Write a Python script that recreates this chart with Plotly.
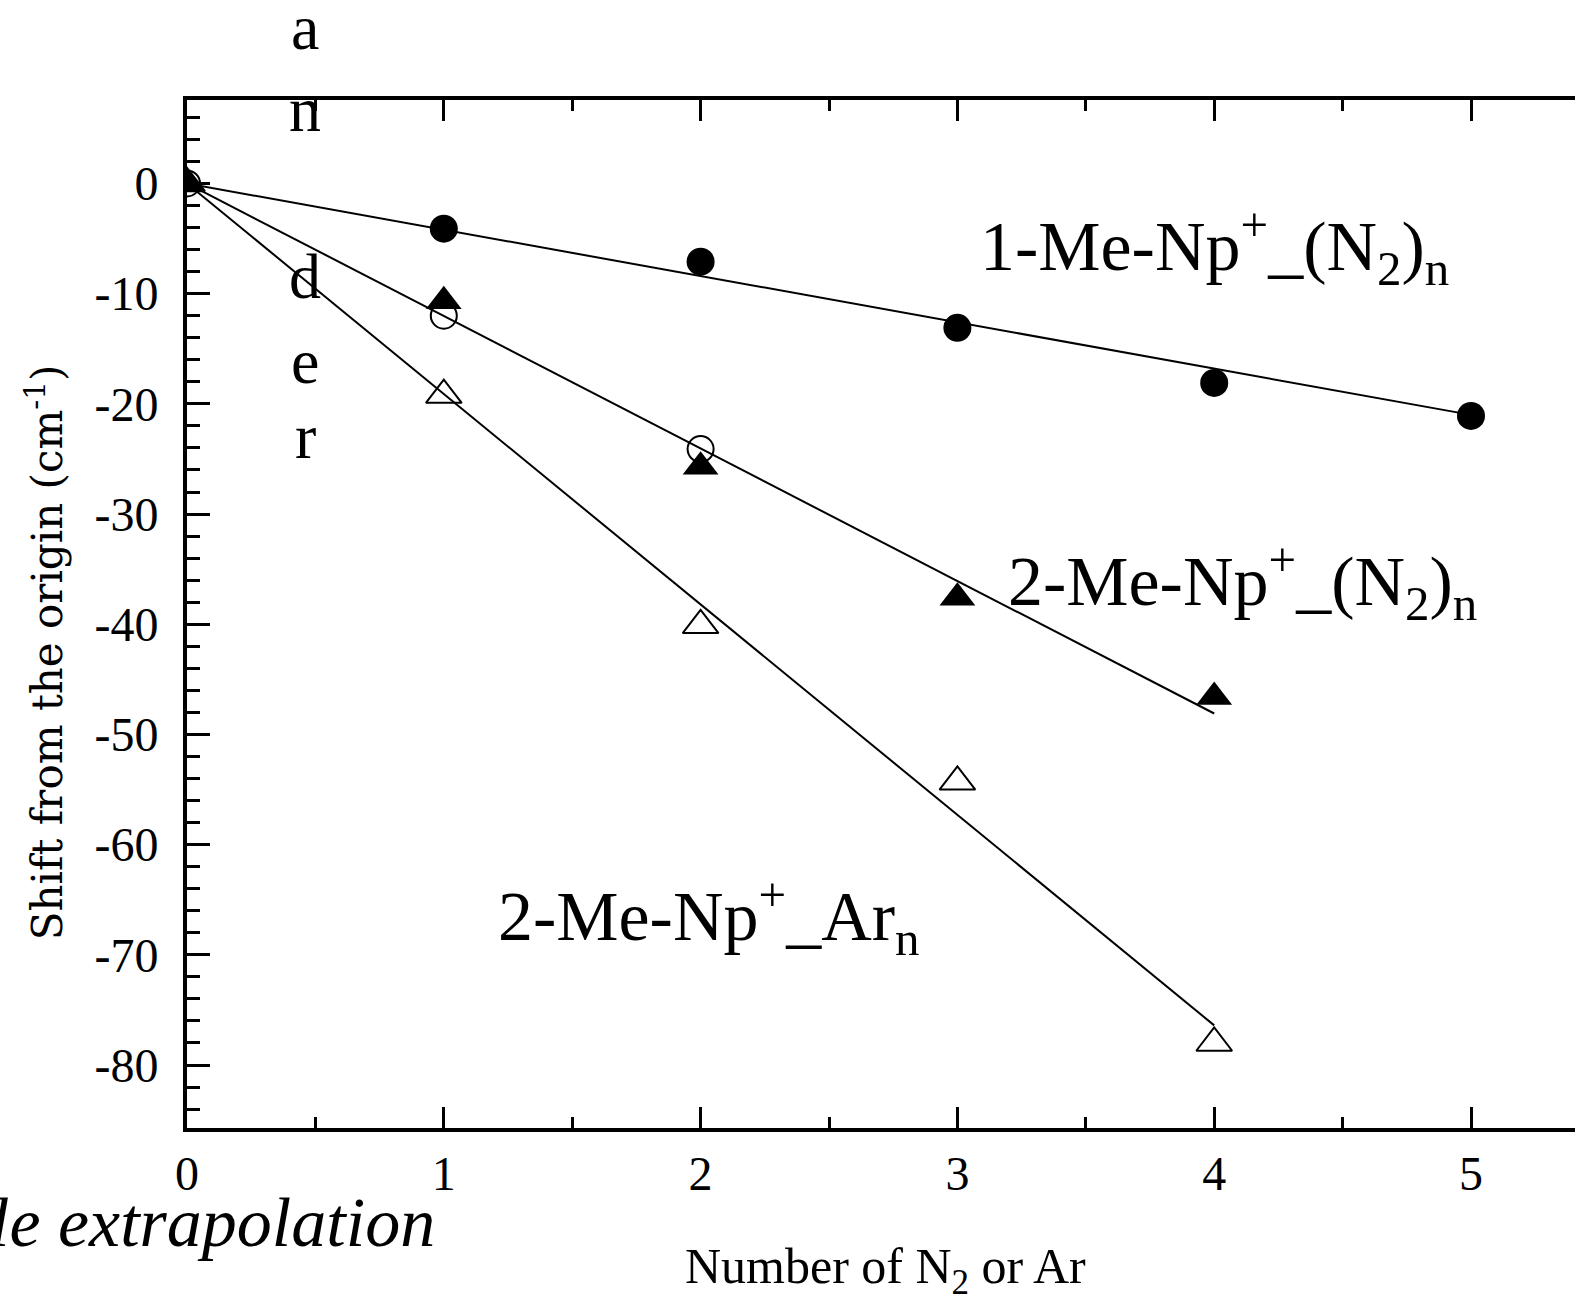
import plotly.graph_objects as go

# Measured band shifts (cm^-1) versus number of attached ligands
n_1me_n2 = [1, 2, 3, 4, 5]
shift_1me_n2 = [-4.1, -7.1, -13.1, -18.1, -21.1]

n_2me_n2 = [0, 1, 2, 3, 4]
shift_2me_n2 = [0, -10.7, -25.7, -37.6, -46.6]

n_2me_n2_open = [0, 1, 2]
shift_2me_n2_open = [0, -12.0, -24.1]

n_2me_ar = [0, 1, 2, 3, 4]
shift_2me_ar = [0, -19.2, -40.1, -54.3, -78.0]

# Straight-line extrapolations through the origin
fit_1me_n2_x = [0, 5]
fit_1me_n2_y = [0, -21.0]
fit_2me_n2_x = [0, 4]
fit_2me_n2_y = [0, -48.1]
fit_2me_ar_x = [0, 4]
fit_2me_ar_y = [0, -76.4]

x_ticks = [0, 1, 2, 3, 4, 5]
y_ticks = [0, -10, -20, -30, -40, -50, -60, -70, -80]

W, H = 1575, 1301
# frame line positions (pixels) and axis scales
LINE_L, LINE_T, LINE_B = 185, 97.5, 1130
LW = 4
PL, PR, PT, PB = LINE_L + LW / 2, W, LINE_T + LW / 2, LINE_B - LW / 2
X_SCALE = 256.8
Y0_PX, Y_SCALE = 183, 11.025
SERIF = "Liberation Serif"


def fx(px):
    return (px - PL) / (PR - PL)


def fy(py):
    return (PB - py) / (PB - PT)


fig = go.Figure()

for xs, ys in [(fit_1me_n2_x, fit_1me_n2_y),
               (fit_2me_n2_x, fit_2me_n2_y),
               (fit_2me_ar_x, fit_2me_ar_y)]:
    fig.add_trace(go.Scatter(x=xs, y=ys, mode="lines",
                             line=dict(color="black", width=2),
                             showlegend=False, hoverinfo="skip"))

fig.add_trace(go.Scatter(x=n_2me_ar, y=shift_2me_ar, mode="markers",
                         marker=dict(symbol="triangle-up-open", size=31, color="black",
                                     line=dict(width=2, color="black")),
                         showlegend=False))
fig.add_trace(go.Scatter(x=n_2me_n2, y=shift_2me_n2, mode="markers",
                         marker=dict(symbol="triangle-up", size=31, color="black"),
                         showlegend=False))
fig.add_trace(go.Scatter(x=n_2me_n2_open, y=shift_2me_n2_open, mode="markers",
                         marker=dict(symbol="circle-open", size=26, color="black",
                                     line=dict(width=2, color="black")),
                         showlegend=False))
fig.add_trace(go.Scatter(x=n_1me_n2, y=shift_1me_n2, mode="markers",
                         marker=dict(symbol="circle", size=28, color="black"),
                         showlegend=False))

axis_common = dict(
    showgrid=False, zeroline=False, showline=True, linecolor="black", linewidth=LW,
    ticks="inside", tickcolor="black", tickwidth=3,
    tickfont=dict(family=SERIF, size=48, color="black"),
)

fig.update_xaxes(
    **axis_common,
    range=[0, (PR - PL) / X_SCALE],
    tickvals=x_ticks, ticktext=[str(v) for v in x_ticks],
    ticklen=21, mirror="allticks",
    minor=dict(dtick=0.5, tick0=0, ticks="inside", ticklen=11, tickwidth=3, tickcolor="black"),
)
fig.update_yaxes(
    **axis_common,
    range=[-(PB - Y0_PX) / Y_SCALE, (Y0_PX - PT) / Y_SCALE],
    tickvals=y_ticks, ticktext=[str(v) for v in y_ticks],
    ticklen=23, mirror=False, ticklabelstandoff=15,
    minor=dict(dtick=2, tick0=0, ticks="inside", ticklen=13, tickwidth=3, tickcolor="black"),
)

annotations = []


def label(text, x, y, size, xanchor="left", family=SERIF, angle=0):
    annotations.append(dict(
        text=text, x=x, y=y, xref="paper", yref="paper",
        xanchor=xanchor, yanchor="middle", showarrow=False, textangle=angle,
        font=dict(family=family, size=size, color="black"),
    ))


# Series labels
label("1-Me-Np<sup>+</sup>_(N<sub>2</sub>)<sub>n</sub>", fx(978), fy(246), 70)
label("2-Me-Np<sup>+</sup>_(N<sub>2</sub>)<sub>n</sub>", fx(1006), fy(581), 70)
label("2-Me-Np<sup>+</sup>_Ar<sub>n</sub>", fx(496), fy(916), 70)

# Axis titles
label("Number of N<sub>2</sub> or Ar", fx(885), fy(1270), 50, xanchor="center")
label("Shift from the origin (cm<sup>-1</sup>)", fx(45), fy(652), 42,
      xanchor="center", family="DejaVu Serif", angle=-90)

# Surrounding page text
for ch, base in zip("ander", [49, 131, 298, 383, 458]):
    label(ch, fx(305), fy(base - 21.6), 64, xanchor="center")
label("<i>le extrapolation</i>", fx(437), fy(1223), 70, xanchor="right")

fig.update_layout(
    width=W, height=H,
    margin=dict(l=PL, r=W - PR, t=PT, b=H - PB),
    paper_bgcolor="white", plot_bgcolor="white",
    annotations=annotations,
    showlegend=False,
)

fig.write_html("out.html")
